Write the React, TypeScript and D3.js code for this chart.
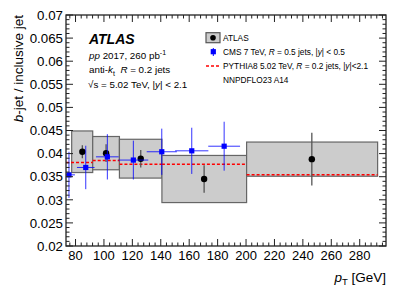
import React, { useEffect, useRef } from "react";
import * as d3 from "d3";

const width = 407;
const height = 294;
const margin = { top: 15, right: 21, bottom: 48, left: 66 };

// ATLAS b-jet fraction, bins in pT [GeV]
const binEdges = [77.3, 92.1, 110.9, 140.8, 200.4, 292.6];
const atlasPt = [84.8, 101.5, 125.9, 170.5, 246.3];
const atlasRatio = [0.0404, 0.0401, 0.0389, 0.0345, 0.0388];
const atlasStat = [0.0014, 0.0019, 0.0019, 0.003, 0.0057];
const atlasSys = [0.0045, 0.0036, 0.0042, 0.0051, 0.0037];

// CMS 7 TeV
const cmsPt = [75.4, 87.2, 102.4, 120.7, 140.7, 161.8, 184.6];
const cmsPtErr = [4.2, 6.2, 8.0, 10.5, 10.6, 11.7, 11.2];
const cmsRatio = [0.0354, 0.037, 0.0393, 0.0386, 0.0404, 0.0406, 0.0416];
const cmsErr = [0.005, 0.0047, 0.0049, 0.0042, 0.005, 0.005, 0.0053];

// PYTHIA8 prediction per bin
const pythiaEdges = [73.3, 92.1, 110.9, 140.8, 200.4, 292.6];
const pythiaRatio = [0.0381, 0.0385, 0.0377, 0.0377, 0.0354];

const xTicks = [80, 100, 120, 140, 160, 180, 200, 220, 240, 260, 280];
const yTicks = [0.02, 0.025, 0.03, 0.035, 0.04, 0.045, 0.05, 0.055, 0.06, 0.065, 0.07];

const font = "'Liberation Sans', Arial, Helvetica, sans-serif";

type Part = { t: string; it?: boolean; bold?: boolean; shift?: number; size?: number };

function addText(
  parent: d3.Selection<any, unknown, null, undefined>,
  x: number,
  y: number,
  parts: Part[],
  size: number,
  anchor = "start"
) {
  const text = parent
    .append("text")
    .attr("x", x)
    .attr("y", y)
    .attr("font-size", size)
    .attr("text-anchor", anchor)
    .style("white-space", "pre");
  let cur = 0;
  parts.forEach((p) => {
    const s = p.shift ?? 0;
    const ts = text.append("tspan").text(p.t).attr("dy", s - cur);
    cur = s;
    if (p.it) ts.attr("font-style", "italic");
    if (p.bold) ts.attr("font-weight", "bold");
    if (p.size) ts.attr("font-size", p.size);
  });
  return text;
}

export default function App() {
  const ref = useRef<SVGSVGElement>(null);

  useEffect(() => {
    const svg = d3.select(ref.current);
    svg.selectAll("*").remove();
    svg.attr("font-family", font);

    const x = d3
      .scaleLinear()
      .domain([73.3, 298.5])
      .range([margin.left, width - margin.right]);
    const y = d3
      .scaleLinear()
      .domain([0.02, 0.07])
      .range([height - margin.bottom, margin.top]);

    const x0 = margin.left;
    const x1 = width - margin.right;
    const y0 = height - margin.bottom;
    const y1 = margin.top;

    svg.append("defs").append("clipPath").attr("id", "plot").append("rect")
      .attr("x", x0).attr("y", y1).attr("width", x1 - x0).attr("height", y0 - y1);

    const plot = svg.append("g").attr("clip-path", "url(#plot)");

    // systematic boxes
    plot
      .append("g")
      .selectAll("rect")
      .data(atlasPt)
      .join("rect")
      .attr("x", (_, i) => x(binEdges[i]))
      .attr("width", (_, i) => x(binEdges[i + 1]) - x(binEdges[i]))
      .attr("y", (_, i) => y(atlasRatio[i] + atlasSys[i]))
      .attr("height", (_, i) => y(atlasRatio[i] - atlasSys[i]) - y(atlasRatio[i] + atlasSys[i]))
      .attr("fill", "#cccccc")
      .attr("stroke", "#666")
      .attr("stroke-width", 1.2);

    // PYTHIA
    plot
      .append("g")
      .selectAll("line")
      .data(pythiaRatio)
      .join("line")
      .attr("x1", (_, i) => x(pythiaEdges[i]))
      .attr("x2", (_, i) => x(pythiaEdges[i + 1]))
      .attr("y1", (d) => y(d))
      .attr("y2", (d) => y(d))
      .attr("stroke", "#ff0000")
      .attr("stroke-width", 1.5)
      .attr("stroke-dasharray", "3,2");

    // ATLAS points
    const atl = plot.append("g");
    atl
      .selectAll("line")
      .data(atlasPt)
      .join("line")
      .attr("x1", (d) => x(d))
      .attr("x2", (d) => x(d))
      .attr("y1", (_, i) => y(atlasRatio[i] + atlasStat[i]))
      .attr("y2", (_, i) => y(atlasRatio[i] - atlasStat[i]))
      .attr("stroke", "#555")
      .attr("stroke-width", 1.3);
    atl
      .selectAll("circle")
      .data(atlasPt)
      .join("circle")
      .attr("cx", (d) => x(d))
      .attr("cy", (_, i) => y(atlasRatio[i]))
      .attr("r", 3.2)
      .attr("fill", "#000");

    // CMS points
    const cms = plot.append("g").attr("stroke", "#0000ff").attr("stroke-width", 1).attr("stroke-opacity", 0.8);
    cms
      .selectAll("line.v")
      .data(cmsPt)
      .join("line")
      .attr("class", "v")
      .attr("x1", (d) => x(d))
      .attr("x2", (d) => x(d))
      .attr("y1", (_, i) => y(cmsRatio[i] + cmsErr[i]))
      .attr("y2", (_, i) => y(cmsRatio[i] - cmsErr[i]));
    cms
      .selectAll("line.h")
      .data(cmsPt)
      .join("line")
      .attr("class", "h")
      .attr("x1", (d, i) => x(d - cmsPtErr[i]))
      .attr("x2", (d, i) => x(d + cmsPtErr[i]))
      .attr("y1", (_, i) => y(cmsRatio[i]))
      .attr("y2", (_, i) => y(cmsRatio[i]));
    plot
      .append("g")
      .selectAll("rect")
      .data(cmsPt)
      .join("rect")
      .attr("x", (d) => x(d) - 2.6)
      .attr("y", (_, i) => y(cmsRatio[i]) - 2.6)
      .attr("width", 5.2)
      .attr("height", 5.2)
      .attr("fill", "#0000ff");

    // frame + ticks
    const axes = svg.append("g").attr("stroke", "#222").attr("stroke-width", 1);
    const xMinor = d3.range(76, 298, 4);
    const yMinor = d3.range(20, 71).map((v) => v / 1000);
    xMinor.forEach((v) => {
      const len = xTicks.includes(v) ? 7 : 3.5;
      axes.append("line").attr("x1", x(v)).attr("x2", x(v)).attr("y1", y0).attr("y2", y0 - len);
      axes.append("line").attr("x1", x(v)).attr("x2", x(v)).attr("y1", y1).attr("y2", y1 + len);
    });
    yMinor.forEach((v, i) => {
      const len = i % 5 === 0 ? 7 : 3.5;
      axes.append("line").attr("x1", x0).attr("x2", x0 + len).attr("y1", y(v)).attr("y2", y(v));
      axes.append("line").attr("x1", x1).attr("x2", x1 - len).attr("y1", y(v)).attr("y2", y(v));
    });
    axes
      .append("rect")
      .attr("x", x0)
      .attr("y", y1)
      .attr("width", x1 - x0)
      .attr("height", y0 - y1)
      .attr("fill", "none")
      .attr("stroke-width", 1.3);

    // tick labels
    svg
      .append("g")
      .selectAll("text")
      .data(xTicks)
      .join("text")
      .attr("x", (d) => x(d))
      .attr("y", 260)
      .attr("text-anchor", "middle")
      .attr("font-size", 13)
      .text((d) => d);
    svg
      .append("g")
      .selectAll("text")
      .data(yTicks)
      .join("text")
      .attr("x", 63)
      .attr("y", (d) => y(d) + 4.7)
      .attr("text-anchor", "end")
      .attr("font-size", 13.3)
      .text((d) => d3.format("~g")(d));

    // axis titles
    addText(svg, x1, 282, [{ t: "p", it: true }, { t: "T", shift: 3, size: 9.5 }, { t: " [GeV]", shift: 0 }], 13.5, "end");
    const yt = addText(svg, 0, 0, [{ t: "b", it: true }, { t: "-jet / inclusive jet" }], 13.5, "end");
    yt.attr("transform", `translate(23, ${y1}) rotate(-90)`);

    // labels
    addText(svg, 89, 43.5, [{ t: "ATLAS", it: true, bold: true }], 14);
    addText(svg, 89, 58.5, [{ t: "pp", it: true }, { t: " 2017, 260 pb" }, { t: "-1", shift: -4, size: 7 }], 9.8);
    addText(
      svg,
      89,
      73,
      [{ t: "anti-" }, { t: "k", it: true }, { t: "t", shift: 2.5, size: 7 }, { t: "  " , shift: 0}, { t: "R", it: true }, { t: " = 0.2 jets" }],
      9.8
    );
    addText(svg, 88, 87.5, [{ t: "\u221As = 5.02 TeV, |" }, { t: "y", it: true }, { t: "| < 2.1" }], 9.8);

    // legend
    const lg = svg.append("g");
    lg.append("rect").attr("x", 206).attr("y", 32.7).attr("width", 14).attr("height", 10)
      .attr("fill", "#cccccc").attr("stroke", "#555").attr("stroke-width", 1.2);
    lg.append("circle").attr("cx", 213).attr("cy", 37.7).attr("r", 2.8).attr("fill", "#000");
    lg.append("line").attr("x1", 213.3).attr("x2", 213.3).attr("y1", 48).attr("y2", 56)
      .attr("stroke", "#0000ff").attr("stroke-width", 1);
    lg.append("rect").attr("x", 210.7).attr("y", 49.1).attr("width", 5.2).attr("height", 5.2).attr("fill", "#0000ff");
    lg.append("line").attr("x1", 206).attr("x2", 221).attr("y1", 66).attr("y2", 66)
      .attr("stroke", "#ff0000").attr("stroke-width", 1.5).attr("stroke-dasharray", "3,2");
    addText(lg, 223, 40.5, [{ t: "ATLAS" }], 8.3);
    addText(lg, 223, 54.5, [{ t: "CMS 7 TeV, " }, { t: "R", it: true }, { t: " = 0.5 jets, |" }, { t: "y", it: true }, { t: "| < 0.5" }], 8.3);
    addText(lg, 223, 68.5, [{ t: "PYTHIA8 5.02 TeV, " }, { t: "R", it: true }, { t: " = 0.2 jets, |" }, { t: "y", it: true }, { t: "|<2.1" }], 8.3);
    addText(lg, 223, 82.5, [{ t: "NNPDFLO23 A14" }], 8.3);
  }, []);

  return (
    <svg
      ref={ref}
      width={width}
      height={height}
      style={{ position: "absolute", left: 0, top: 0, background: "#fff" }}
    />
  );
}
